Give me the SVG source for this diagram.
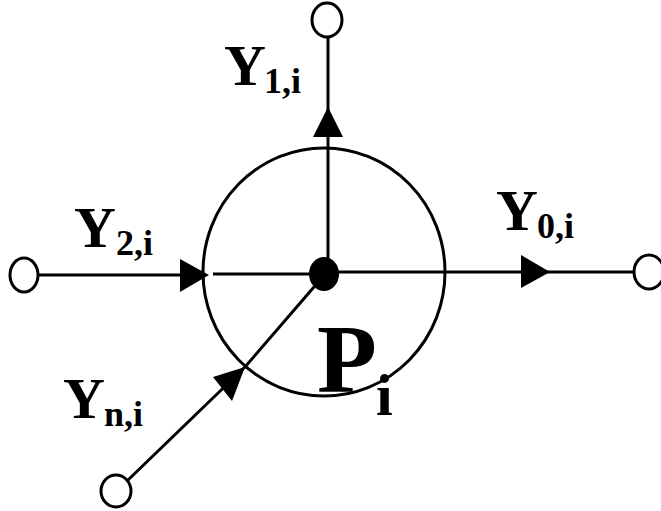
<svg xmlns="http://www.w3.org/2000/svg" width="661" height="511" viewBox="0 0 661 511">
<style>
.ln{stroke:#000;stroke-width:3;fill:none}
.node{stroke:#000;stroke-width:3;fill:#fff}
.ah{fill:#000;stroke:none}
.t{font-family:"Liberation Serif","Times New Roman",serif;font-weight:bold;fill:#000}
.big{font-size:58px}
.sub{font-size:36px}
</style>
<rect width="661" height="511" fill="#fff"/>
<g id="connectors">
<line class="ln" x1="328" y1="37" x2="328" y2="272"/>
<polygon class="ah" points="328,107 343,137 313,137"/>
<line class="ln" x1="38" y1="275" x2="206" y2="275"/>
<polygon class="ah" points="209,275 180,259 180,292"/>
<line class="ln" x1="213" y1="274" x2="324" y2="274"/>
<line class="ln" x1="324" y1="272" x2="633" y2="272"/>
<polygon class="ah" points="550,272 521,255 521,288"/>
<line class="ln" x1="127" y1="481" x2="245" y2="367"/>
<line class="ln" x1="245" y1="367" x2="320" y2="280"/>
<polygon class="ah" points="245,367 213,377 232,401"/>
</g>
<g id="P_i">
<ellipse class="ln" cx="324" cy="272" rx="121" ry="124"/>
<ellipse cx="324" cy="274" rx="15" ry="17" fill="#000"/>
<text class="t" x="317" y="392" font-size="98">P</text>
<text class="t" x="376" y="415" font-size="60">i</text>
</g>
<g id="node_top"><ellipse class="node" cx="327" cy="20" rx="15" ry="17"/></g>
<g id="node_left"><ellipse class="node" cx="24" cy="275" rx="14" ry="17"/></g>
<g id="node_right"><ellipse class="node" cx="649" cy="272" rx="15" ry="17"/></g>
<g id="node_bottom"><ellipse class="node" cx="116" cy="491" rx="15" ry="16"/></g>
<g id="labels">
<text class="t big" x="224" y="85">Y</text><text class="t sub" x="264" y="93">1,i</text>
<text class="t big" x="74" y="247">Y</text><text class="t sub" x="116" y="255">2,i</text>
<text class="t big" x="496" y="230">Y</text><text class="t sub" x="537" y="238">0,i</text>
<text class="t big" x="63" y="418">Y</text><text class="t sub" x="104" y="426">n,i</text>
</g>
</svg>
